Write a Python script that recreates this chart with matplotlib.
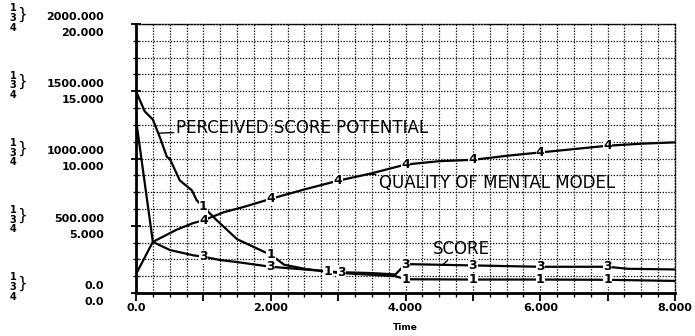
import matplotlib
matplotlib.use("Agg")
import matplotlib.pyplot as plt
import matplotlib.transforms as mtransforms
import numpy as np

# ---------------- data ----------------
time_perceived = [0, 0.13, 0.2, 0.25, 0.36, 0.46, 0.5, 0.65, 0.83, 0.9, 1.0, 1.2, 1.5,
                  1.95, 2.0, 2.2, 2.5, 2.85, 3.0, 3.5, 3.85, 4.0, 5.0, 6.0, 7.0, 8.0]
perceived_score_potential = [1500, 1350, 1315, 1290, 1150, 1010, 1000, 837, 763, 690, 640,
                             540, 400, 295, 285, 210, 180, 158, 150, 135, 125, 102, 100,
                             100, 98, 90]

time_score = [0, 0.25, 0.5, 0.85, 1.0, 1.25, 1.5, 2.0, 2.5, 3.0, 3.5, 3.85,
              4.0, 5.0, 6.0, 7.0, 7.3, 8.0]
score = [1290, 380, 320, 280, 270, 245, 230, 195, 175, 155, 148, 138,
         215, 205, 195, 195, 180, 175]

time_quality = [0, 0.25, 0.6, 0.85, 1.0, 1.3, 1.6, 2.0, 2.5, 3.0, 3.5, 4.0,
                4.5, 5.0, 5.5, 6.0, 6.5, 7.0, 7.5, 8.0]
quality_of_mental_model = [1.4, 3.8, 4.7, 5.2, 5.4, 6.0, 6.4, 7.0, 7.7, 8.35, 8.9, 9.55,
                           9.8, 9.9, 10.2, 10.45, 10.7, 10.95, 11.1, 11.2]
quality_scale = 100  # 0..20 scale shown against 0..2000 scale

x_tick_values = [0, 2, 4, 6, 8]
x_tick_labels = ["0.0", "2.000", "4.000", "6.000", "8.000"]
y_tick_values = [0, 500, 1000, 1500, 2000]
y_labels_13 = ["0.0", "500.000", "1000.000", "1500.000", "2000.000"]
y_labels_4 = ["0.0", "5.000", "10.000", "15.000", "20.000"]
series_key = "1\n3\n4"

marker_times_1 = [1, 2, 2.85, 4, 5, 6, 7]
marker_times_3 = [1, 2, 3.05, 4, 5, 6, 7]
marker_times_4 = [1, 2, 3, 4, 5, 6, 7]

# ---------------- figure ----------------
W, H = 695, 336
fig = plt.figure(figsize=(W / 100, H / 100), dpi=100)
ax_l, ax_r, ax_t, ax_b = 136, 675, 24, 293
ax = fig.add_axes([ax_l / W, (H - ax_b) / H, (ax_r - ax_l) / W, (ax_b - ax_t) / H])
ax.set_xlim(0, 8)
ax.set_ylim(0, 2000)

ax.set_xticks(np.arange(0, 8.01, 1.0))
ax.set_xticks(np.arange(0, 8.01, 0.25), minor=True)
ax.set_yticks(y_tick_values)
ax.set_yticks(np.arange(0, 2001, 125), minor=True)
ax.set_xticklabels([])
ax.set_yticklabels([])
ax.grid(True, which="both", color="black", linestyle=(0, (1, 1.3)), linewidth=0.9)
ax.set_axisbelow(True)

for side in ("top", "right"):
    ax.spines[side].set_linestyle((0, (1, 1.3)))
    ax.spines[side].set_linewidth(1.0)
ax.spines["left"].set_linewidth(2.0)
ax.spines["bottom"].set_linewidth(2.0)
ax.tick_params(axis="x", which="major", direction="out", length=6, width=1.3)
ax.tick_params(axis="x", which="minor", direction="out", length=3, width=1.0)
ax.tick_params(axis="y", which="major", direction="inout", length=7, width=1.3)
ax.tick_params(axis="y", which="minor", direction="inout", length=5, width=1.0)

lw = 1.6
ax.plot(time_perceived, perceived_score_potential, color="black", lw=lw, zorder=3)
ax.plot(time_score, score, color="black", lw=lw, zorder=3)
q_vals = np.array(quality_of_mental_model) * quality_scale
ax.plot(time_quality, q_vals, color="black", lw=lw, zorder=3)

mk = dict(ha="center", va="center", fontsize=9, fontweight="bold", zorder=5,
          bbox=dict(facecolor="white", edgecolor="none", pad=0.3))
for t in marker_times_1:
    ax.text(t, np.interp(t, time_perceived, perceived_score_potential), "1", **mk)
for t in marker_times_3:
    ax.text(t, np.interp(t, time_score, score), "3", **mk)
for t in marker_times_4:
    ax.text(t, np.interp(t, time_quality, q_vals), "4", **mk)

# curve labels with leader lines
lab = dict(fontsize=12, va="center", ha="left", zorder=6,
           arrowprops=dict(arrowstyle="-", lw=1.0, color="black", shrinkA=0, shrinkB=0))
t1 = 0.33
ax.annotate("PERCEIVED SCORE POTENTIAL",
            xy=(t1, np.interp(t1, time_perceived, perceived_score_potential)),
            xytext=(0.6, 1230), **lab)
t4 = 3.45
ax.annotate("QUALITY OF MENTAL MODEL",
            xy=(t4, np.interp(t4, time_quality, q_vals)),
            xytext=(3.6, 815), **lab)
t3 = 4.55
ax.annotate("SCORE",
            xy=(t3, np.interp(t3, time_score, score)),
            xytext=(4.4, 330), **lab)

# x tick labels
for v, s in zip(x_tick_values, x_tick_labels):
    ax.text(v, -0.037, s, transform=ax.get_xaxis_transform(), ha="center", va="top",
            fontsize=8, fontweight="bold")
ax.text(4, -0.11, "Time", transform=ax.get_xaxis_transform(), ha="center", va="top",
        fontsize=6.5, fontweight="bold")

# y tick labels (two scales)
ytr = ax.get_yaxis_transform()
x_lab = (104 - ax_l) / (ax_r - ax_l)
x_num = (13 - ax_l) / (ax_r - ax_l)
x_brace = (22 - ax_l) / (ax_r - ax_l)
def off(px):
    return mtransforms.offset_copy(ytr, fig=fig, x=0, y=px * 0.72, units="points")
for v, s13, s4 in zip(y_tick_values, y_labels_13, y_labels_4):
    ax.text(x_lab, v, s13, transform=off(7), ha="right", va="center",
            fontsize=8, fontweight="bold", clip_on=False)
    ax.text(x_lab, v, s4, transform=off(-9), ha="right", va="center",
            fontsize=8, fontweight="bold", clip_on=False)
    ax.text(x_num, v, series_key, transform=off(6), ha="center", va="center",
            fontsize=7, fontweight="bold", linespacing=0.95, clip_on=False)
    ax.text(x_brace, v, "}", transform=off(10), ha="center", va="center",
            fontsize=11, clip_on=False)

fig.savefig("out.png", dpi=100, facecolor="white")
